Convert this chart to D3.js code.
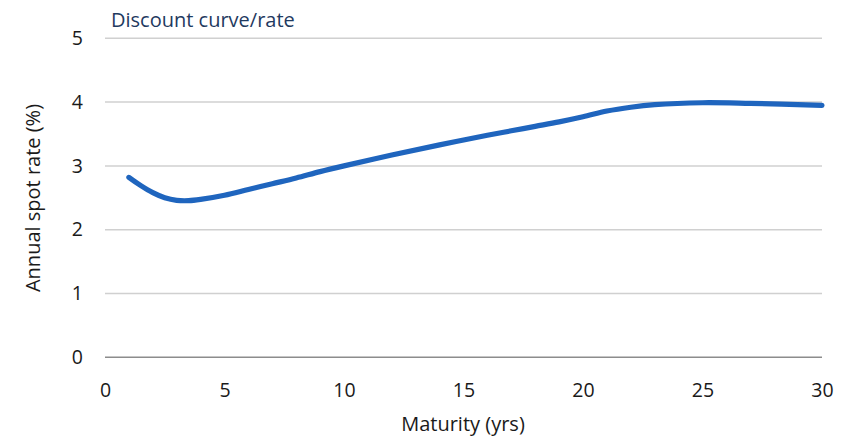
<!DOCTYPE html>
<html><head><meta charset="utf-8">
<script src="https://cdn.jsdelivr.net/npm/d3@7"></script>
<style>body{margin:0;background:#fff}svg{display:block}text{font-family:"Open Sans","Noto Sans",sans-serif}</style>
</head><body><svg id="c" width="842" height="440"></svg>
<script>
const years = [1,1.5,2,2.5,3,3.5,4,5,6,7,8,9,10,12,14,16,17,18,19,20,21,22,23,25,27,30];
const rates = [2.82,2.69,2.58,2.50,2.46,2.455,2.475,2.54,2.63,2.72,2.81,2.91,3.00,3.17,3.33,3.48,3.55,3.62,3.69,3.77,3.86,3.92,3.96,3.99,3.98,3.95];
const xTicks = [0,5,10,15,20,25,30];
const yTicks = [0,1,2,3,4,5];
const title = "Discount curve/rate";
const xLabel = "Maturity (yrs)";
const yLabel = "Annual spot rate (%)";

const svg = d3.select("#c");
const x = d3.scaleLinear().domain([0,30]).range([105,822]);
const y = d3.scaleLinear().domain([0,5]).range([357.3,38.3]);

svg.append("g").selectAll("line").data(yTicks).join("line")
  .attr("x1",x(0)).attr("x2",x(30)).attr("y1",d=>y(d)).attr("y2",d=>y(d))
  .attr("stroke",d=>d===0?"#8c8c8c":"#d0d0d0").attr("stroke-width",1.5);

const ya = svg.append("g").attr("transform",`translate(${x(0)},0)`)
  .call(d3.axisLeft(y).tickValues(yTicks).tickSize(0).tickPadding(22).tickFormat(d3.format("d")));
ya.select(".domain").remove();
ya.selectAll("text").attr("font-size",19.5).attr("fill","#1a1a1a");

const xa = svg.append("g").attr("transform",`translate(0,${y(0)})`)
  .call(d3.axisBottom(x).tickValues(xTicks).tickSize(0).tickPadding(26).tickFormat(d3.format("d")));
xa.select(".domain").remove();
xa.selectAll("text").attr("font-size",19.5).attr("fill","#1a1a1a");

const line = d3.line().x((d,i)=>x(years[i])).y(d=>y(d)).curve(d3.curveCatmullRom.alpha(0.5));
svg.append("path").attr("d",line(rates)).attr("fill","none")
  .attr("stroke","#1f65be").attr("stroke-width",5.2).attr("stroke-linecap","round").attr("stroke-linejoin","round");

svg.append("text").attr("x",111).attr("y",26.5).attr("font-size",20).attr("fill","#1f3a5f").text(title);
svg.append("text").attr("x",463).attr("y",431).attr("text-anchor","middle").attr("font-size",20).attr("fill","#1a1a1a").text(xLabel);
svg.append("text").attr("transform","translate(40,198) rotate(-90)").attr("text-anchor","middle").attr("font-size",20).attr("fill","#1a1a1a").text(yLabel);
</script></body></html>
